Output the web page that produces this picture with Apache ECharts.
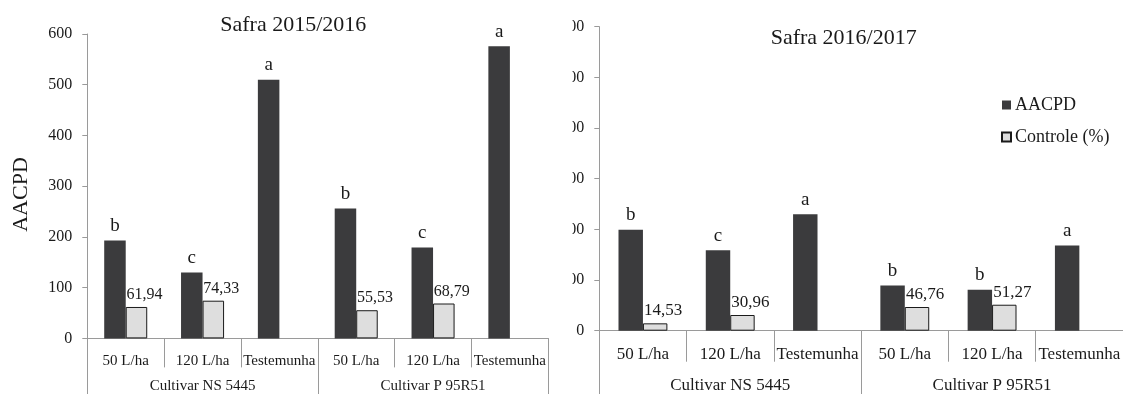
<!DOCTYPE html>
<html>
<head>
<meta charset="utf-8">
<script src="https://cdn.jsdelivr.net/npm/echarts@6/dist/echarts.min.js"></script>
<style>html,body{margin:0;padding:0;background:#fff}#c{width:1123px;height:394px}</style>
</head>
<body>
<div id="c"></div>
<script>
// ---- data ----
var categories = ['50 L/ha', '120 L/ha', 'Testemunha', '50 L/ha', '120 L/ha', 'Testemunha'];
var cultivars = ['Cultivar NS 5445', 'Cultivar P 95R51'];
var aacpd2015 = [193, 130, 510, 256, 179, 576];
var controle2015 = [61.94, 74.33, null, 55.53, 68.79, null];
var letters2015 = ['b', 'c', 'a', 'b', 'c', 'a'];
var aacpd2016 = [199, 159, 230, 89, 81, 168];
var controle2016 = [14.53, 30.96, null, 46.76, 51.27, null];
var letters2016 = ['b', 'c', 'a', 'b', 'b', 'a'];
var yMin = 0, yMax = 600, yInterval = 100;
var seriesNames = ['AACPD', 'Controle (%)'];
var titles = ['Safra 2015/2016', 'Safra 2016/2017'];

// ---- style ----
var FONT = 'Liberation Serif';
var DARK = '#3b3b3d', LIGHT = '#dedede', AXIS = '#9a9a9a', TXT = '#1a1a1a';
var catIdx = categories.map(function (_, i) { return String(i); });

function yAxis(gi) {
  return {
    gridIndex: gi, type: 'value', min: yMin, max: yMax, interval: yInterval,
    axisLine: { show: true, lineStyle: { color: AXIS, width: 1 } },
    axisTick: { show: true, length: 5, lineStyle: { color: AXIS } },
    splitLine: { show: false },
    axisLabel: { margin: 15, color: TXT, fontFamily: FONT, fontSize: 16 }
  };
}
function xAxes(gi, fs, tickLen1, margin1, tickLen2, margin2) {
  return [{
    gridIndex: gi, type: 'category', data: catIdx, position: 'bottom',
    axisLine: { show: true, lineStyle: { color: AXIS, width: 1 } },
    axisTick: { show: true, length: tickLen1, lineStyle: { color: AXIS } },
    axisLabel: { margin: margin1, color: TXT, fontFamily: FONT, fontSize: fs, interval: 0,
      formatter: function (v, i) { return categories[i]; } }
  }, {
    gridIndex: gi, type: 'category', data: cultivars, position: 'bottom',
    axisLine: { show: false },
    axisTick: { show: true, length: tickLen2, lineStyle: { color: AXIS } },
    axisLabel: { margin: margin2, color: TXT, fontFamily: FONT, fontSize: fs, interval: 0 }
  }];
}
function bars(gi, dark, light, letters, numSize) {
  return [{
    name: seriesNames[0], type: 'bar', xAxisIndex: gi * 2, yAxisIndex: gi,
    data: dark, barWidth: '28%', barGap: '0%',
    itemStyle: { color: DARK, borderColor: DARK, borderWidth: 0 },
    label: { show: true, position: 'top', distance: 5, color: TXT, fontFamily: FONT, fontSize: 19,
      formatter: function (p) { return letters[p.dataIndex]; } }
  }, {
    name: seriesNames[1], type: 'bar', xAxisIndex: gi * 2, yAxisIndex: gi,
    data: light, barWidth: '28%', barGap: '0%',
    itemStyle: { color: LIGHT, borderColor: '#1a1a1a', borderWidth: 1 },
    label: { show: true, position: 'top', distance: 4, offset: [8, 0], color: TXT, fontFamily: FONT, fontSize: numSize,
      formatter: function (p) { return p.value == null ? '' : p.value.toFixed(2).replace('.', ','); } }
  }];
}

var chart = echarts.init(document.getElementById('c'), null, { renderer: 'canvas' });
chart.setOption({
  animation: false,
  backgroundColor: '#fff',
  grid: [
    { left: 87.3, top: 34, width: 461, height: 304.4 },
    { left: 599.3, top: 26.7, width: 528, height: 304 }
  ],
  xAxis: xAxes(0, 15, 29, 15, 56, 40).concat(xAxes(1, 17, 31, 15, 64, 46)),
  yAxis: [yAxis(0), yAxis(1)],
  legend: {
    data: seriesNames, orient: 'vertical', left: 1001, top: 96, padding: 0,
    itemWidth: 9, itemHeight: 9, itemGap: 14, icon: 'rect',
    textStyle: { fontFamily: FONT, fontSize: 18, color: TXT, padding: [0, 0, 0, -1] }
  },
  series: bars(0, aacpd2015, controle2015, letters2015, 16).concat(bars(1, aacpd2016, controle2016, letters2016, 17)),
  graphic: [
    { type: 'rect', z: 100, shape: { x: 551, y: 0, width: 21.5, height: 394 }, style: { fill: '#fff' } },
    { type: 'text', z: 101, x: 293.3, y: 25, style: { text: titles[0], font: '22px "' + FONT + '"', fill: TXT, textAlign: 'center', textVerticalAlign: 'middle' } },
    { type: 'text', z: 101, x: 843.7, y: 38.5, style: { text: titles[1], font: '22px "' + FONT + '"', fill: TXT, textAlign: 'center', textVerticalAlign: 'middle' } },
    { type: 'text', z: 101, x: 21, y: 194.5, rotation: Math.PI / 2, style: { text: seriesNames[0], font: '22px "' + FONT + '"', fill: TXT, textAlign: 'center', textVerticalAlign: 'middle' } }
  ]
});
</script>
</body>
</html>
